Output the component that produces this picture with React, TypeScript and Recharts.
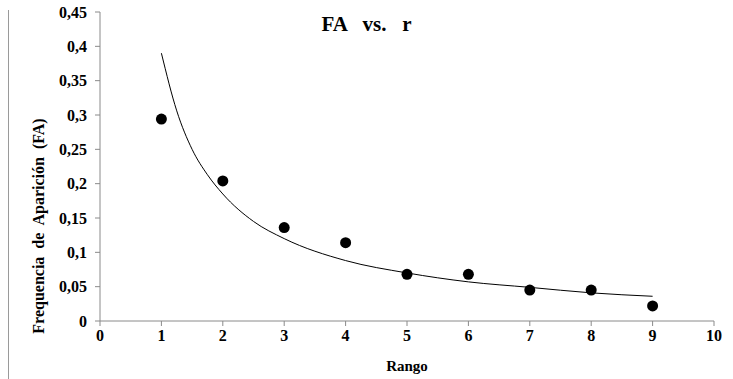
import React from 'react';
import { ComposedChart, Scatter, Line, XAxis, YAxis, ZAxis, Label } from 'recharts';

const rangos = [1, 2, 3, 4, 5, 6, 7, 8, 9];
const frecuencias = [0.294, 0.204, 0.136, 0.114, 0.068, 0.068, 0.045, 0.045, 0.022];

// tendencia leída sobre la curva del gráfico
const tendenciaX = [1, 1.25, 1.5, 1.75, 2, 2.5, 3, 4, 5, 6, 7, 8, 9];
const tendenciaY = [0.39, 0.306, 0.25, 0.213, 0.185, 0.145, 0.12, 0.088, 0.07, 0.057, 0.049, 0.041, 0.036];

const xTicks = [0, 1, 2, 3, 4, 5, 6, 7, 8, 9, 10];
const yTicks = [0, 0.05, 0.1, 0.15, 0.2, 0.25, 0.3, 0.35, 0.4, 0.45];

const puntos = rangos.map((x, i) => ({ x, y: frecuencias[i] }));
const tendencia = tendenciaX.map((x, i) => ({ x, t: tendenciaY[i] }));

const font = '"Liberation Serif", "Times New Roman", serif';
const axisGray = '#8a8a8a';

const tickStyle = { fill: '#000', fontFamily: font, fontWeight: 700, fontSize: 16 };

const App: React.FC = () => {
  return (
    <div style={{ position: 'absolute', left: 0, top: 0, width: 733, height: 379, background: '#fff' }}>
      <div style={{ position: 'absolute', left: 8, top: 10, width: 1, height: 369, background: '#9a9a9a' }} />
      <div
        style={{
          position: 'absolute', left: 0, width: 733, top: 14, textAlign: 'center',
          fontFamily: font, fontWeight: 700, fontSize: 21, lineHeight: '21px', whiteSpace: 'pre',
        }}
      >
        FA   vs.   r
      </div>
      <ComposedChart width={733} height={379} margin={{ top: 12, right: 19, left: 0, bottom: 0 }}>
        <XAxis
          type="number"
          dataKey="x"
          domain={[0, 10]}
          ticks={xTicks}
          interval={0}
          stroke={axisGray}
          tickSize={5}
          tickMargin={4}
          height={58}
          tick={tickStyle}
        >
          <Label
            content={() => (
              <text x={407} y={371} textAnchor="middle" fontFamily={font} fontWeight={700} fontSize={15}>
                Rango
              </text>
            )}
          />
        </XAxis>
        <YAxis
          type="number"
          domain={[0, 0.45]}
          ticks={yTicks}
          interval={0}
          stroke={axisGray}
          tickSize={5}
          tickMargin={8}
          width={100}
          tick={tickStyle}
          tickFormatter={(v: number) => String(v).replace('.', ',')}
        >
          <Label
            content={() => (
              <text
                x={44}
                y={226}
                transform="rotate(-90 44 226)"
                textAnchor="middle"
                fontFamily={font}
                fontWeight={700}
                fontSize={16}
                style={{ whiteSpace: 'pre' }}
              >
                Frequencia  de  Aparición  (FA)
              </text>
            )}
          />
        </YAxis>
        <ZAxis range={[95, 95]} />
        <Line
          data={tendencia}
          dataKey="t"
          type="monotone"
          stroke="#000"
          strokeWidth={1}
          dot={false}
          activeDot={false}
          isAnimationActive={false}
        />
        <Scatter data={puntos} dataKey="y" fill="#000" shape="circle" isAnimationActive={false} />
      </ComposedChart>
    </div>
  );
};

export default App;
